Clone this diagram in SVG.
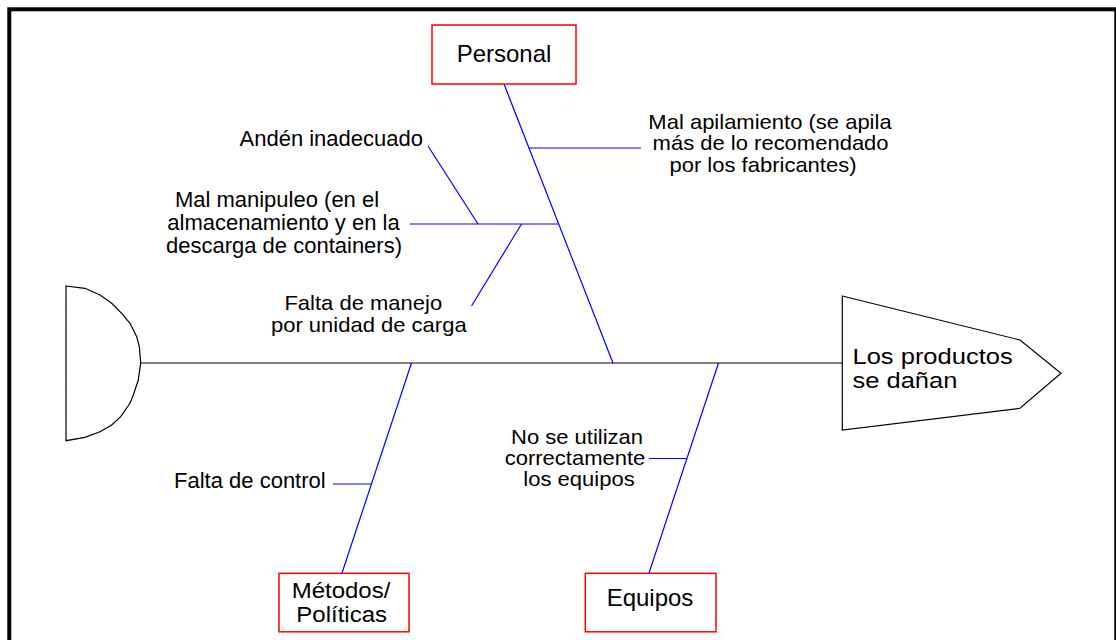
<svg xmlns="http://www.w3.org/2000/svg" width="1116" height="640" viewBox="0 0 1116 640">
<style>
  .t{font-family:"Liberation Sans",Arial,sans-serif;font-size:22px;fill:#000}
  .ts{font-family:"Liberation Sans",Arial,sans-serif;font-size:21px;fill:#000}
  .tb{font-family:"Liberation Sans",Arial,sans-serif;font-size:24px;fill:#000}
  .tm{font-family:"Liberation Sans",Arial,sans-serif;font-size:22.8px;fill:#000}
  .bone{stroke:#0000ff;stroke-width:1.2;fill:none}
  .box{fill:#fff;stroke:#ff0000;stroke-width:1.5}
  .outl{fill:#fff;stroke:#000;stroke-width:1.2}
</style>
<rect x="0" y="0" width="1116" height="640" fill="#fff"/>
<rect id="frame" x="9.3" y="9.3" width="1107" height="700" fill="none" stroke="#000" stroke-width="4"/>

<g id="connectors">
  <line x1="141" y1="363" x2="842" y2="363" stroke="#000" stroke-width="1.2"/>
  <line class="bone" x1="504" y1="84" x2="613" y2="363"/>
  <line class="bone" x1="529" y1="148" x2="641" y2="148"/>
  <line class="bone" x1="410" y1="224" x2="559" y2="224"/>
  <line class="bone" x1="428" y1="146" x2="478" y2="224"/>
  <line class="bone" x1="471.5" y1="306" x2="521.5" y2="224"/>
  <line class="bone" x1="411.5" y1="363" x2="342" y2="573"/>
  <line class="bone" x1="333" y1="484" x2="371" y2="484"/>
  <line class="bone" x1="718.5" y1="363" x2="649" y2="573"/>
  <line class="bone" x1="649" y1="458.5" x2="686.5" y2="458.5"/>
</g>

<g id="tail">
  <polygon class="outl" points="66,286 85,288.3 100,295 111.7,303.3 121.7,313.3 130,323.3 136.7,336.7 139.3,346.7 140.7,362.7 138.3,380 133.3,395 130,403.3 120.7,416.7 111.7,425 100,431.7 85,437.3 66,440.7"/>
</g>

<g id="head">
  <polygon class="outl" points="842.3,296 1020,340 1061,373.3 1020,408.3 842.3,430"/>
  <text class="tm" x="852.5" y="363.5" textLength="160.2" lengthAdjust="spacingAndGlyphs">Los productos</text>
  <text class="tm" x="852.5" y="387.5" textLength="104.9" lengthAdjust="spacingAndGlyphs">se dañan</text>
</g>

<g id="personal">
  <rect class="box" x="432" y="25" width="144" height="59"/>
  <text class="tb" x="504" y="61.7" text-anchor="middle">Personal</text>
</g>

<g id="metodos">
  <rect class="box" x="279" y="573.3" width="130" height="58.5"/>
  <text class="tm" x="341" y="597.8" text-anchor="middle" textLength="98.7" lengthAdjust="spacingAndGlyphs">Métodos/</text>
  <text class="tm" x="341.7" y="622" text-anchor="middle" textLength="90.7" lengthAdjust="spacingAndGlyphs">Políticas</text>
</g>

<g id="equipos">
  <rect class="box" x="585.3" y="573.3" width="130.7" height="58.5"/>
  <text class="tb" x="650" y="606" text-anchor="middle">Equipos</text>
</g>

<g id="mal-apilamiento">
  <text class="ts" x="770" y="128.9" text-anchor="middle" textLength="243.3" lengthAdjust="spacingAndGlyphs">Mal apilamiento (se apila</text>
  <text class="ts" x="770.6" y="150.2" text-anchor="middle" textLength="236" lengthAdjust="spacingAndGlyphs">más de lo recomendado</text>
  <text class="ts" x="763" y="171.5" text-anchor="middle" textLength="187.1" lengthAdjust="spacingAndGlyphs">por los fabricantes)</text>
</g>

<g id="anden">
  <text class="t" x="423" y="145.7" text-anchor="end">Andén inadecuado</text>
</g>

<g id="mal-manipuleo">
  <text class="t" x="277" y="206.7" text-anchor="middle">Mal manipuleo (en el</text>
  <text class="t" x="283.5" y="230" text-anchor="middle">almacenamiento y en la</text>
  <text class="t" x="284" y="253.3" text-anchor="middle">descarga de containers)</text>
</g>

<g id="falta-manejo">
  <text class="ts" x="363.3" y="310.4" text-anchor="middle" textLength="157.7" lengthAdjust="spacingAndGlyphs">Falta de manejo</text>
  <text class="ts" x="368.8" y="331.7" text-anchor="middle" textLength="195.7" lengthAdjust="spacingAndGlyphs">por unidad de carga</text>
</g>

<g id="falta-control">
  <text class="t" x="325.7" y="488.3" text-anchor="end">Falta de control</text>
</g>

<g id="no-se-utilizan">
  <text class="ts" x="577" y="443.6" text-anchor="middle" textLength="132" lengthAdjust="spacingAndGlyphs">No se utilizan</text>
  <text class="ts" x="575" y="464.9" text-anchor="middle" textLength="140.6" lengthAdjust="spacingAndGlyphs">correctamente</text>
  <text class="ts" x="579" y="486.2" text-anchor="middle" textLength="111.3" lengthAdjust="spacingAndGlyphs">los equipos</text>
</g>
</svg>
